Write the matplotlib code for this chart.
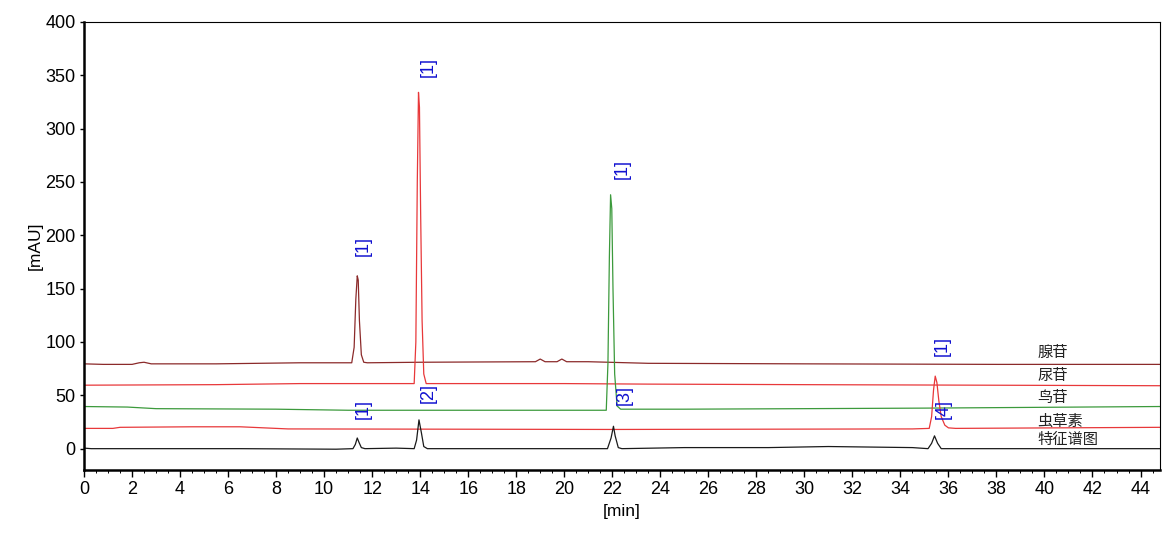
import numpy as np
import matplotlib
matplotlib.use("Agg")
from matplotlib import pyplot as plt
from matplotlib.ticker import MultipleLocator

plt.rcParams['font.family'] = ['Liberation Sans', 'Noto Sans CJK SC', 'DejaVu Sans']

# traces (time in min, signal in mAU, with offsets)
adenosine_t = [0, 0.8, 2.0, 2.3, 2.5, 2.8, 5.5, 9.0, 11.15, 11.25, 11.32, 11.38, 11.42,
               11.47, 11.55, 11.65, 11.8, 14.0, 18.8, 19.0, 19.2, 19.7, 19.9, 20.1,
               21.0, 23.5, 30.0, 38.0, 44.8]
adenosine_v = [79.5, 79, 79, 80.5, 81, 79.5, 79.5, 80.5, 80.5, 95, 140, 162, 158,
               120, 88, 81, 80.5, 81, 81.5, 84, 81.5, 81.5, 84, 81.5,
               81.5, 80, 79.5, 79, 79]

uridine_t = [0, 5.5, 9.0, 13.75, 13.82, 13.88, 13.93, 13.97, 14.02, 14.08, 14.15,
             14.25, 20.0, 23.5, 30.0, 44.8]
uridine_v = [59.5, 60, 61, 61, 100, 250, 334, 320, 220, 120, 70,
             61, 61, 60.5, 60, 59]

guanosine_t = [0, 1.8, 3.0, 8.0, 11.0, 13.5, 21.75, 21.82, 21.88, 21.93, 21.98,
               22.03, 22.1, 22.2, 22.35, 25.0, 35.0, 44.8]
guanosine_v = [39.5, 39, 37.5, 37, 36, 36, 36, 80, 180, 238, 225,
               150, 70, 40, 37, 37, 38, 39.5]

cordycepin_t = [0, 1.2, 1.5, 4.5, 6.5, 7.5, 8.5, 22.0, 34.5, 35.2, 35.3, 35.38,
                35.45, 35.52, 35.6, 35.7, 35.85, 36.0, 36.3, 44.8]
cordycepin_v = [19, 19, 20, 20.5, 20.5, 19.5, 18.5, 18, 18.5, 19, 30, 55,
                68, 62, 45, 30, 22, 19.5, 19, 20]

finger_t = [0, 0.3, 6.0, 6.5, 10.5, 11.2, 11.3, 11.38, 11.45, 11.55, 11.7, 13.0,
            13.75, 13.85, 13.95, 14.05, 14.15, 14.3, 21.8, 21.95, 22.05, 22.12,
            22.25, 22.4, 25.0, 28.5, 31.0, 34.5, 35.15, 35.3, 35.42, 35.55, 35.7,
            38.0, 44.8]
finger_v = [0.5, 0, 0, 0, -0.5, 0, 4, 10, 6, 1, 0, 0.5,
            0, 8, 27, 15, 2, 0, 0, 10, 21, 12,
            1, 0, 1, 1, 2, 1, 0, 5, 12, 5, 0,
            0, 0]

trace_names = ["腺苷", "尿苷", "鸟苷", "虫草素", "特征谱图"]
trace_name_y = [90, 69, 48, 26, 9]

peak_label_text = ["[1]", "[1]", "[1]", "[1]", "[1]", "[2]", "[3]", "[4]"]
peak_label_x = [11.65, 14.35, 22.4, 35.75, 11.65, 14.35, 22.5, 35.8]
peak_label_y = [190, 358, 262, 96, 37, 52, 50, 37]

fig = plt.figure(figsize=(11.75, 5.35), dpi=100)
ax = fig.add_axes([0.0715, 0.1215, 0.9155, 0.8375])

ax.plot(adenosine_t, adenosine_v, color='#8b2a2a', lw=0.9)
ax.plot(uridine_t, uridine_v, color='#e8383a', lw=0.9)
ax.plot(guanosine_t, guanosine_v, color='#3c9a3c', lw=0.9)
ax.plot(cordycepin_t, cordycepin_v, color='#e8383a', lw=0.9)
ax.plot(finger_t, finger_v, color='#1a1a1a', lw=0.9)

for name, y in zip(trace_names, trace_name_y):
    ax.text(39.7, y, name, fontsize=11, color='#222222', va='center', ha='left',
            family=['Noto Sans CJK SC', 'DejaVu Sans'])

for txt, x, y in zip(peak_label_text, peak_label_x, peak_label_y):
    ax.text(x, y, txt, fontsize=13, color='#1010d0', rotation=90,
            ha='center', va='center')

ax.set_xlim(0, 44.8)
ax.set_ylim(-20, 400)
ax.xaxis.set_major_locator(MultipleLocator(2))
ax.xaxis.set_minor_locator(MultipleLocator(0.5))
ax.yaxis.set_major_locator(MultipleLocator(50))
ax.tick_params(axis='x', which='major', labelsize=13, length=5, width=1, pad=3)
ax.tick_params(axis='x', which='minor', length=2.5, width=0.7)
ax.tick_params(axis='y', which='major', labelsize=13, length=3, width=1, pad=3)
ax.spines['left'].set_linewidth(1.8)
ax.spines['bottom'].set_linewidth(1.8)
ax.spines['top'].set_linewidth(0.8)
ax.spines['right'].set_linewidth(0.8)

ax.set_xlabel("[min]", fontsize=12.5, labelpad=4)
ax.set_ylabel("[mAU]", fontsize=12.5, labelpad=2)

plt.savefig("out.png", dpi=100)
